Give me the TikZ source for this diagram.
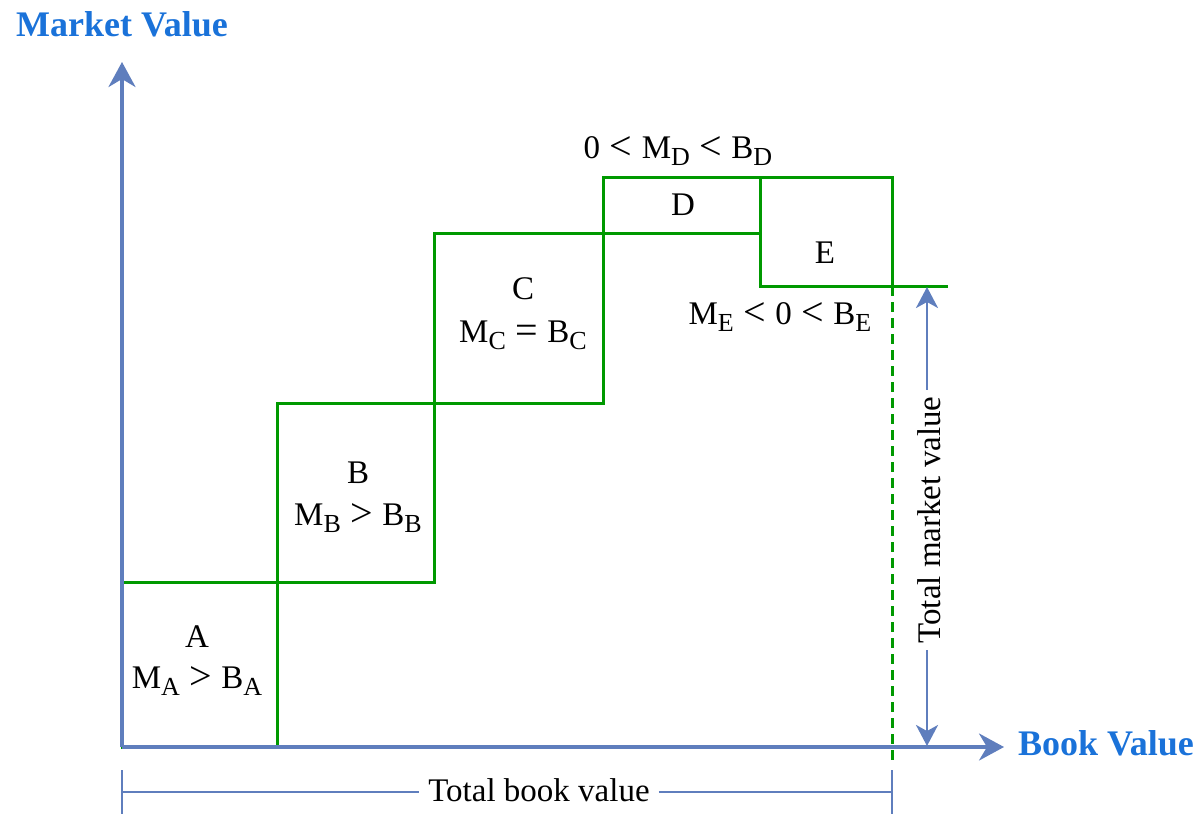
\documentclass[tikz,border=0pt]{standalone}
\usepackage{fontspec}
\setmainfont{Liberation Serif}
\usetikzlibrary{arrows.meta}
\definecolor{axisblue}{HTML}{5F7EBD}
\definecolor{stepgreen}{HTML}{009900}
\definecolor{titleblue}{HTML}{1A72D9}
\newcommand\lsub[1]{\raisebox{-7.5pt}{\fontsize{26}{26}\selectfont #1}}
\newcommand\gap{\hspace{9.5pt}}
\newcommand\rel[1]{\gap\raisebox{-1.7pt}{\fontsize{40}{40}\selectfont #1}\gap}
\tikzset{
  axisline/.style={draw=axisblue, line width=3.5pt, -{Stealth[length=25pt,width=27pt,inset=8pt]}},
  stepline/.style={draw=stepgreen, line width=3pt},
  dimline/.style={draw=axisblue, line width=2.5pt},
  dimarrow/.style={draw=axisblue, line width=2.5pt, {Stealth[length=21pt,width=22pt,inset=6pt]}-{Stealth[length=21pt,width=22pt,inset=6pt]}},
  lbl/.style={font=\fontsize{33}{39}\selectfont, inner sep=0pt, anchor=base, text=black},
  ttl/.style={font=\fontsize{36}{42}\selectfont\bfseries, inner sep=0pt, anchor=base, text=titleblue},
}
\begin{document}
\begin{tikzpicture}[x=1pt, y=-1pt]
\useasboundingbox (0,0) rectangle (1198,814);
% key coordinates
\coordinate (O) at (122,747);
\coordinate (Ytip) at (122,62);
\coordinate (Xtip) at (1004,747);
% step corners
\coordinate (a1) at (122,582);  \coordinate (a2) at (277,747);
\coordinate (b1) at (277,403);  \coordinate (b2) at (434,582);
\coordinate (c1) at (434,233);  \coordinate (c2) at (603,403);
\coordinate (d1) at (603,177);  \coordinate (d2) at (760,233);
\coordinate (e1) at (760,177);  \coordinate (e2) at (892,286);
\coordinate (eR) at (948,286);
\coordinate (dashEnd) at (892,764);
% green blocks
\draw[stepline] (a1) rectangle (a2);
\draw[stepline] (b1) rectangle (b2);
\draw[stepline] (c1) rectangle (c2);
\draw[stepline] (d1) rectangle (d2);
\draw[stepline] (e1) rectangle (e2);
\draw[stepline] (e2) -- (eR);
\draw[stepline, dash pattern=on 10pt off 6pt] (e2) -- (dashEnd);
% axes
\draw[axisline] (O) -- (Ytip);
\draw[axisline] (O) -- (Xtip);
\node[ttl] (mv) at (122,36) {Market Value};
\node[ttl] (bv) at (1106,755) {Book Value};
% total book value dimension
\coordinate (tbL1) at (122,770); \coordinate (tbL2) at (122,814);
\coordinate (tbR1) at (892,770); \coordinate (tbR2) at (892,814);
\coordinate (tbL) at (122,792); \coordinate (tbR) at (892,792);
\draw[dimline] (tbL1) -- (tbL2);
\draw[dimline] (tbR1) -- (tbR2);
\node[lbl, anchor=center, fill=white, inner xsep=9pt, inner ysep=4pt] (tbv) at (539,790) {Total book value};
\draw[dimline] (tbL) -- (tbv.west |- tbL);
\draw[dimline] (tbv.east |- tbR) -- (tbR);
% total market value dimension
\coordinate (tmTop) at (927,287);
\coordinate (tmBot) at (927,746);
\draw[dimarrow] (tmTop) -- (tmBot);
\node[lbl, anchor=center, rotate=90, fill=white, inner xsep=7pt, inner ysep=4pt] (tmv) at (929,520) {Total market value};
% labels
\node[lbl] (Aname) at (197,647) {A};
\node[lbl] (Acond) at (197,688) {M\lsub{A}\rel{>}B\lsub{A}};
\node[lbl] (Bname) at (358,483) {B};
\node[lbl] (Bcond) at (358,525) {M\lsub{B}\rel{>}B\lsub{B}};
\node[lbl] (Cname) at (523,299) {C};
\node[lbl] (Ccond) at (523,342) {M\lsub{C}\rel{=}B\lsub{C}};
\node[lbl] (Dcond) at (678,158) {0\rel{<}M\lsub{D}\rel{<}B\lsub{D}};
\node[lbl] (Dname) at (683,215) {D};
\node[lbl] (Ename) at (825,263) {E};
\node[lbl] (Econd) at (780,324) {M\lsub{E}\rel{<}0\rel{<}B\lsub{E}};
\end{tikzpicture}
\end{document}
